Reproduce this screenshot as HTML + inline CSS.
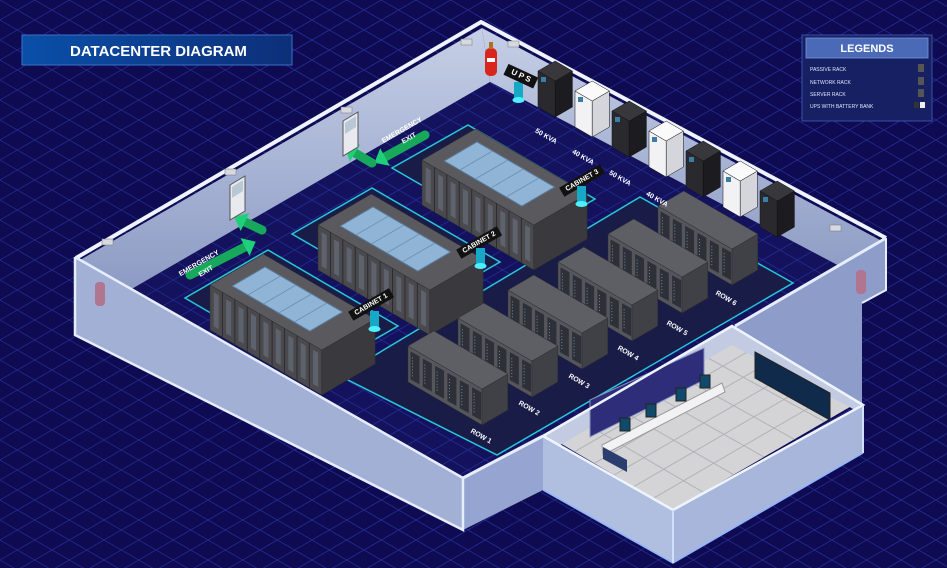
<!DOCTYPE html>
<html><head><meta charset="utf-8">
<style>
html,body{margin:0;padding:0;width:947px;height:568px;overflow:hidden;background:#0f0b52;}
svg{display:block;position:absolute;left:0;top:0}
text{font-family:"Liberation Sans",sans-serif;}
</style></head><body>
<svg id="s" width="947" height="568" viewBox="0 0 947 568" xmlns="http://www.w3.org/2000/svg">
<defs>
<linearGradient id="title" x1="0" x2="1"><stop offset="0" stop-color="#0a4fa8"/><stop offset="1" stop-color="#0d2f7a"/></linearGradient>
<linearGradient id="wallb" x1="0" y1="0" x2="0" y2="1"><stop offset="0" stop-color="#c5cfe6"/><stop offset="1" stop-color="#8d9bc4"/></linearGradient>
</defs>
<rect width="947" height="568" fill="#0f0b52"/>
<g id="g"></g>
</svg>
<script>
const NS="http://www.w3.org/2000/svg";
let S=document.getElementById('g');
function el(t,a,txt){const e=document.createElementNS(NS,t);for(const k in a)e.setAttribute(k,a[k]);if(txt)e.textContent=txt;S.appendChild(e);return e;}
function P(p){return p.map(q=>q[0].toFixed(1)+','+q[1].toFixed(1)).join(' ');}
function grid(col){for(let c=-1200;c<1600;c+=20){
 el('line',{x1:0,y1:c,x2:947,y2:c+947*0.577,stroke:col,'stroke-width':0.7});
 el('line',{x1:0,y1:c,x2:947,y2:c-947*0.577,stroke:col,'stroke-width':0.7});}}
grid('#28319a');
el('polygon',{points:P([[80,260],[482,28],[490,82],[130,290]]),fill:'url(#wallb)'});
el('polygon',{points:P([[482,28],[880,240],[862,278],[490,82]]),fill:'url(#wallb)'});
el('polygon',{points:P([[130,290],[490,82],[862,278],[735,350],[543,460],[463,478],[82,262]]),fill:'#14125c'});
el('polyline',{points:P([[76,258],[481,22],[886,238]]),fill:'none',stroke:'#eef3ff','stroke-width':4});
const cp=document.createElementNS(NS,'clipPath');cp.setAttribute('id','fc');
const cpp=document.createElementNS(NS,'polygon');cpp.setAttribute('points','130,290 490,82 862,278 735,350 543,460 463,478 82,262');cp.appendChild(cpp);
document.querySelector('defs').appendChild(cp);
S=el('g',{'clip-path':'url(#fc)'});grid('#24309a');S=document.getElementById('g');
const vx=0.86,vy=0.5,ux=0.86,uy=-0.5;
function box(x,y,a,b,h,cl,cr,ct,stroke){
 const p0=[x,y],p1=[x+a*vx,y+a*vy],p2=[p1[0]+b*ux,p1[1]+b*uy],p3=[x+b*ux,y+b*uy];
 const up=p=>[p[0],p[1]-h];
 el('polygon',{points:P([p0,p1,up(p1),up(p0)]),fill:cl,stroke:stroke||'none','stroke-width':0.5});
 el('polygon',{points:P([p1,p2,up(p2),up(p1)]),fill:cr,stroke:stroke||'none','stroke-width':0.5});
 el('polygon',{points:P([up(p0),up(p1),up(p2),up(p3)]),fill:ct,stroke:stroke||'none','stroke-width':0.5});
}
function plate(pts,stroke){el('polygon',{points:P(pts),fill:'#1a1c48',stroke:stroke,'stroke-width':1.5});}
function label(x,y,t,rot,bg,size){
 const g=document.createElementNS(NS,'g');g.setAttribute('transform',`translate(${x},${y}) rotate(${rot})`);S.appendChild(g);
 if(bg){const w=t.length*size*0.62+8;const r=document.createElementNS(NS,'rect');r.setAttribute('x',-w/2);r.setAttribute('y',-size);r.setAttribute('width',w);r.setAttribute('height',size*1.5);r.setAttribute('fill','#111');g.appendChild(r);}
 const tx=document.createElementNS(NS,'text');tx.setAttribute('text-anchor','middle');tx.setAttribute('font-size',size);tx.setAttribute('fill','#fff');tx.setAttribute('font-weight','bold');tx.textContent=t;g.appendChild(tx);
}
plate([[185,298],[315,374],[398,326],[268,250]],'#27c8d8');
plate([[292,234],[420,308],[500,262],[372,188]],'#27c8d8');
plate([[392,168],[520,242],[595,199],[468,125]],'#27c8d8');
plate([[340,376],[640,197],[793,283],[497,455]],'#27c8d8');
function cabinet(x,y){
 const a=130,b=62,h=45;
 box(x,y,a,b,h,'#4a4a4e','#3a3a3e','#5a5a5e','#2a2a2e');
 const t=[x+14*vx+12*ux,y-h+14*vy+12*uy];
 const ga=90,gb=38;
 el('polygon',{points:P([t,[t[0]+ga*vx,t[1]+ga*vy],[t[0]+ga*vx+gb*ux,t[1]+ga*vy+gb*uy],[t[0]+gb*ux,t[1]+gb*uy]]),fill:'#8fb4d6',stroke:'#5d7fa3'});
 for(let i=1;i<5;i++){const q=[t[0]+i*ga/5*vx,t[1]+i*ga/5*vy];el('line',{x1:q[0],y1:q[1],x2:q[0]+gb*ux,y2:q[1]+gb*uy,stroke:'#6b8fb5','stroke-width':0.8});}
 for(let i=1;i<9;i++){const q=[x+i*a/9*vx,y+i*a/9*vy];el('line',{x1:q[0],y1:q[1],x2:q[0],y2:q[1]-h,stroke:'#2c2c30','stroke-width':1});}
 for(let i=0;i<9;i++){const q=[x+(i+0.3)*a/9*vx,y+(i+0.3)*a/9*vy];el('polygon',{points:P([[q[0],q[1]-6],[q[0]+5,q[1]-3],[q[0]+5,q[1]-h+8],[q[0],q[1]-h+5]]),fill:'#5e626c'});}
}
cabinet(210,330);cabinet(318,270);cabinet(422,205);
function row(x,y){
 const a=86,b=30,h=36;
 box(x,y,a,b,h,'#55565b','#404146','#5e5f64','#2a2a2e');
 for(let i=0;i<6;i++){const q=[x+(i+0.2)*a/6*vx,y+(i+0.2)*a/6*vy];el('polygon',{points:P([[q[0],q[1]-4],[q[0]+9,q[1]+1],[q[0]+9,q[1]-h+9],[q[0],q[1]-h+4]]),fill:'#2e3038'});
  el('line',{x1:q[0]+2,y1:q[1]-h+10,x2:q[0]+2,y2:q[1]-6,stroke:'#6f87a8','stroke-width':1,'stroke-dasharray':'1 2'});}
}
for(let i=5;i>=0;i--){row(408+i*50,382-i*28);}
[[480,438,'ROW 1'],[528,410,'ROW 2'],[578,383,'ROW 3'],[627,355,'ROW 4'],[676,330,'ROW 5'],[725,300,'ROW 6']].forEach(r=>label(r[0],r[1],r[2],30,false,7));
[[372,306,'CABINET 1'],[480,244,'CABINET 2'],[583,182,'CABINET 3']].forEach(c=>label(c[0],c[1],c[2],-30,true,7));
[[374,325],[480,262],[581,200],[518,96]].forEach(b=>{el('rect',{x:b[0]-4,y:b[1]-14,width:9,height:18,fill:'#17a8c8'});el('ellipse',{cx:b[0]+0.5,cy:b[1]+4,rx:6,ry:3,fill:'#4ef0ff'});});
label(520,78,'U P S',25,true,8);
const ups=[[538,107,0],[575,127,1],[612,147,0],[649,167,1],[686,187,0],[723,207,1],[760,227,0]];
ups.forEach(u=>{const w=u[2];box(u[0],u[1],20,20,36,w?'#f2f2f4':'#2a2a2e',w?'#d4d6dc':'#1c1c20',w?'#fafafa':'#38383c','#111');
 el('rect',{x:u[0]+3,y:u[1]-30,width:5,height:5,fill:'#3a7ea8'});});
['50 KVA','40 KVA','50 KVA','40 KVA'].forEach((k,i)=>label(545+i*37,138+i*21,k,30,false,7));
function arrow(x1,y1,x2,y2){el('line',{x1,y1,x2,y2,stroke:'#17a85c','stroke-width':9,'stroke-linecap':'round'});
 const dx=x2-x1,dy=y2-y1,L=Math.hypot(dx,dy),ux_=dx/L,uy_=dy/L;
 el('polygon',{points:P([[x2+ux_*12,y2+uy_*12],[x2-uy_*10,y2+ux_*10],[x2+uy_*10,y2-ux_*10]]),fill:'#1fd07a'});}
arrow(190,275,245,247);arrow(262,230,245,222);
arrow(425,135,385,157);arrow(372,163,355,153);
label(200,265,'EMERGENCY',-30,false,7);label(207,273,'EXIT',-30,false,7);
label(403,132,'EMERGENCY',-30,false,7);label(410,140,'EXIT',-30,false,7);
[[230,185],[343,121]].forEach(d=>{el('polygon',{points:P([[d[0],d[1]],[d[0]+15,d[1]-9],[d[0]+15,d[1]+26],[d[0],d[1]+35]]),fill:'#e8eaef',stroke:'#555','stroke-width':1});
 el('polygon',{points:P([[d[0]+2,d[1]+2],[d[0]+13,d[1]-5],[d[0]+13,d[1]+6],[d[0]+2,d[1]+13]]),fill:'#b9c8d4'});});
[[466,42],[513,44],[346,110],[230,172],[107,242],[570,428],[835,228]].forEach(l=>el('rect',{x:l[0]-5,y:l[1]-3,width:11,height:6,fill:'#d7d9e0',stroke:'#777','stroke-width':0.5}));
function fire(x,y,col){el('rect',{x:x-6,y:y-28,width:12,height:28,rx:5,fill:col});el('rect',{x:x-2,y:y-34,width:4,height:7,fill:'#b07020'});el('rect',{x:x-4,y:y-18,width:8,height:4,fill:'#fff'});}
fire(491,76,'#d8261c');fire(731,392,'#d8261c');
// front walls: opaque
el('polygon',{points:P([[75,257],[463,478],[463,530],[75,335]]),fill:'#a3b0d6'});
el('polygon',{points:P([[463,478],[543,436],[543,490],[463,530]]),fill:'#95a4d0'});
el('polygon',{points:P([[735,326],[885,238],[885,290],[862,303],[862,403],[735,330]]),fill:'#8e9cca'});
el('rect',{x:95,y:282,width:10,height:24,rx:4,fill:'#b0758f'});
el('rect',{x:856,y:270,width:10,height:24,rx:4,fill:'#b0758f'});
el('polyline',{points:P([[75,257],[75,335],[463,530],[463,478],[75,257]]),fill:'none',stroke:'#e5edff','stroke-width':2.5});
el('polyline',{points:P([[886,238],[886,290],[862,303]]),fill:'none',stroke:'#e5edff','stroke-width':2});
el('line',{x1:463,y1:478,x2:543,y2:436,stroke:'#e5edff','stroke-width':3});
el('line',{x1:735,y1:326,x2:886,y2:238,stroke:'#e5edff','stroke-width':3});
// NOC
el('polygon',{points:P([[555,440],[732,338],[855,404],[673,510]]),fill:'#d4d4d6'});
for(let i=1;i<6;i++){const t=i/6;el('line',{x1:555+t*177,y1:440-t*102,x2:673+t*182,y2:510-t*106,stroke:'#b2b2b6','stroke-width':1});
 el('line',{x1:555+t*118,y1:440+t*70,x2:732+t*123,y2:338+t*66,stroke:'#b2b2b6','stroke-width':1});}
el('polygon',{points:P([[543,436],[732,326],[732,345],[555,448]]),fill:'#c3cbe2'});
el('polygon',{points:P([[732,326],[862,403],[855,410],[732,345]]),fill:'#c3cbe2'});
el('polygon',{points:P([[590,400],[704,348],[704,380],[590,437]]),fill:'#2e2d7a',stroke:'#8792c0'});
el('polygon',{points:P([[755,352],[830,393],[830,420],[755,378]]),fill:'#0f2a4a',stroke:'#222'});
el('polygon',{points:P([[602,445],[722,383],[725,392],[603,455]]),fill:'#f2f2f4',stroke:'#999'});
el('polygon',{points:P([[603,447],[627,460],[627,472],[603,459]]),fill:'#2a3f70'});
[[620,432],[646,418],[676,402],[700,389]].forEach(m=>el('rect',{x:m[0],y:m[1]-14,width:10,height:13,fill:'#0f4a6a',stroke:'#222'}));
el('polygon',{points:P([[543,436],[673,510],[673,563],[543,490]]),fill:'#b0bee0'});
el('polygon',{points:P([[673,510],[863,405],[863,453],[673,563]]),fill:'#a8b6dc'});
el('polyline',{points:P([[543,436],[673,510],[863,405],[732,326],[543,436]]),fill:'none',stroke:'#eef4ff','stroke-width':2.5});
el('polyline',{points:P([[543,490],[673,563],[863,453]]),fill:'none',stroke:'#8fb3ff','stroke-width':1.5});
el('line',{x1:673,y1:510,x2:673,y2:563,stroke:'#cfe0ff','stroke-width':2});
el('line',{x1:863,y1:405,x2:863,y2:453,stroke:'#cfe0ff','stroke-width':2});
el('rect',{x:22,y:35,width:270,height:30,fill:'url(#title)',stroke:'#3a6fc8','stroke-width':1});
el('text',{x:70,y:56,'font-size':15,fill:'#fff','font-weight':'bold'},'DATACENTER DIAGRAM');
el('rect',{x:802,y:35,width:130,height:86,fill:'#162063',stroke:'#3650a8','stroke-width':1});
el('rect',{x:806,y:38,width:122,height:20,fill:'#4a6ab8',stroke:'#7a93d0','stroke-width':0.8});
el('text',{x:867,y:52,'font-size':11,fill:'#fff','font-weight':'bold','text-anchor':'middle'},'LEGENDS');
[['PASSIVE RACK',69],['NETWORK RACK',82],['SERVER RACK',94],['UPS WITH BATTERY BANK',106]].forEach(l=>{el('text',{x:810,y:l[1]+2,'font-size':5,fill:'#dfe6ff'},l[0]);});
[69,82,94].forEach(y=>el('rect',{x:918,y:y-5,width:6,height:8,fill:'#555'}));
el('rect',{x:914,y:102,width:5,height:6,fill:'#333'});el('rect',{x:920,y:102,width:5,height:6,fill:'#eee'});
</script>
</body></html>
